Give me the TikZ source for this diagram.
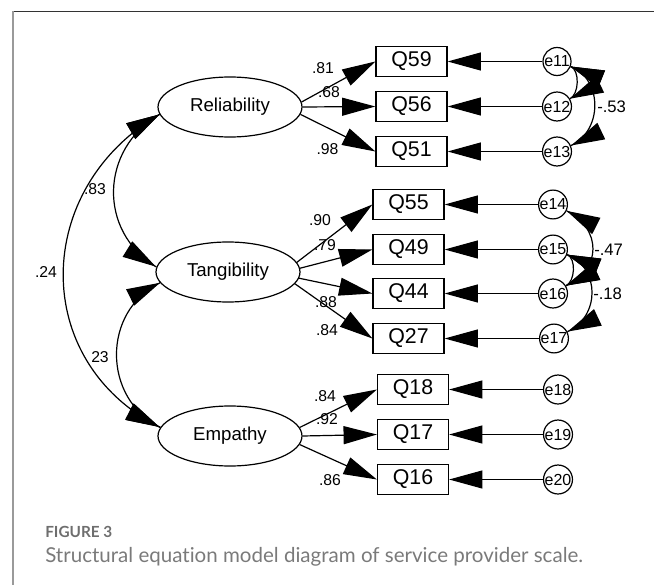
\documentclass[tikz,border=0pt]{standalone}
\usepackage{fontspec}
\setmainfont{Liberation Sans}
\newfontfamily\capfont[Ligatures=NoCommon]{Lato}
\usetikzlibrary{shapes.geometric,arrows.meta,decorations.markings}
\definecolor{figgray}{HTML}{6E6E6E}
\definecolor{capgray}{HTML}{7A7A7A}
\definecolor{framegray}{HTML}{9A9A9A}
\definecolor{framedark}{HTML}{333333}
\begin{document}
\begin{tikzpicture}[x=0.75pt,y=-0.75pt,
  lat/.style={draw,ellipse,minimum width=108pt,minimum height=45pt,inner sep=0pt,line width=0.9pt,font=\fontsize{14}{16}\selectfont},
  obs/.style={draw,rectangle,minimum width=53.25pt,minimum height=22.5pt,inner sep=0pt,line width=0.9pt,font=\fontsize{16}{18}\selectfont},
  err/.style={draw,circle,minimum size=21pt,inner sep=0pt,line width=0.9pt,font=\fontsize{12}{14}\selectfont},
  coef/.style={inner sep=0pt,font=\fontsize{11.8}{13}\selectfont},
  covlbl/.style={inner sep=0pt,anchor=west,font=\fontsize{12.5}{14}\selectfont},
  load/.style={line width=0.9pt,-{Triangle[length=25pt,width=13.5pt]}},
  cov/.style={line width=0.9pt,postaction={decorate,decoration={markings,
      mark=at position 0 with {\arrowreversed{Triangle[length=25pt,width=13.5pt]}},
      mark=at position 0.996 with {\arrow{Triangle[length=25pt,width=13.5pt]}}}}}
]
\useasboundingbox (0,0) rectangle (654,585);
% frame
\draw[framedark,line width=0.9pt] (13,11.5) -- (654,11.5);
\draw[framegray,line width=1.5pt] (13,11.5) -- (13,585);

% latent variables
\node[lat] (rel) at (230,107) {Reliability};
\node[lat] (tan) at (228,272) {Tangibility};
\node[lat] (emp) at (230,436) {Empathy};

% observed
\node[obs] (q59) at (411.5,61.5) {Q59};
\node[obs] (q56) at (411.5,106.5) {Q56};
\node[obs] (q51) at (411.5,151.5) {Q51};
\node[obs] (q55) at (408.5,204.5) {Q55};
\node[obs] (q49) at (408.5,249.5) {Q49};
\node[obs] (q44) at (408.5,293.5) {Q44};
\node[obs] (q27) at (408.5,338.5) {Q27};
\node[obs] (q18) at (413,389.5) {Q18};
\node[obs] (q17) at (413,434.5) {Q17};
\node[obs] (q16) at (413,479.5) {Q16};

% errors
\node[err] (e11) at (557,61.5) {e11};
\node[err] (e12) at (557,106.5) {e12};
\node[err] (e13) at (557,151.5) {e13};
\node[err] (e14) at (553,204.5) {e14};
\node[err] (e15) at (553,249.5) {e15};
\node[err] (e16) at (553,293.5) {e16};
\node[err] (e17) at (554,338.5) {e17};
\node[err] (e18) at (558,389.5) {e18};
\node[err] (e19) at (558,434.5) {e19};
\node[err] (e20) at (558,479.5) {e20};

% loadings
\draw[load] (rel.4) -- (q59.west);
\draw[load] (rel.east) -- (q56.west);
\draw[load] (rel.-6) -- (q51.west);
\draw[load] (tan.8) -- (q55.west);
\draw[load] (tan.3) -- (q49.west);
\draw[load] (tan.-5) -- (q44.west);
\draw[load] (tan.-10) -- (q27.west);
\draw[load] (emp.7) -- (q18.west);
\draw[load] (emp.east) -- (q17.west);
\draw[load] (emp.-7) -- (q16.west);

% error paths
\foreach \e/\q in {e11/q59,e12/q56,e13/q51,e14/q55,e15/q49,e16/q44,e17/q27,e18/q18,e19/q17,e20/q16}
  \draw[load] (\e) -- (\q.east);

% latent covariances
\draw[cov] (rel.186) .. controls +(-127,74) and +(-131,-66) .. (emp.173.5);
\draw[cov] (rel.186) .. controls +(-59.6,34.7) and +(-58.9,-35.9) .. (tan.176);
\draw[cov] (tan.189) .. controls +(-58.4,28.7) and +(-58.1,-29.1) .. (emp.173.5);

% error covariances
\draw[cov] (e11.-20) .. controls +(32.4,13.1) and +(31.7,-14.8) .. (e13.23);
\draw[cov] (e11.-20) .. controls +(9.3,3.75) and +(9.1,-4.1) .. (e12.31);
\draw[cov] (e14.-25) .. controls +(35.2,17.9) and +(36,-16.2) .. (e16.31);
\draw[cov] (e15.-20) .. controls +(33.4,13.5) and +(32.7,-15) .. (e17.27);
\draw[cov] (e15.-20) .. controls +(9.3,3.75) and +(9.1,-4.1) .. (e16.31);

% coefficient labels
\node[coef] (l81) at (323,68) {.81};
\node[coef] (l68) at (329,92.5) {.68};
\node[coef] (l98) at (327.5,149) {.98};
\node[coef] (l90) at (320,220) {.90};
\node[coef] (l79) at (325,245) {.79};
\node[coef] (l88) at (326,302) {.88};
\node[coef] (l84a) at (327,330) {.84};
\node[coef] (l84b) at (325,396) {.84};
\node[coef] (l92) at (327,419) {.92};
\node[coef] (l86) at (330,480) {.86};
\node[coef] (l24) at (46,272) {.24};
\node[coef] (l83) at (95,189) {.83};
\node[coef] (l23) at (100,357) {23};
\node[covlbl] (l53) at (597,107) {-.53};
\node[covlbl] (l47) at (594,250) {-.47};
\node[covlbl] (l18) at (593,294) {-.18};

% caption
\node[anchor=base west,inner sep=0pt,text=figgray,font=\capfont\bfseries\fontsize{11.5}{13}\selectfont] (figlbl) at (45,537) {FIGURE 3};
\node[anchor=base west,inner sep=0pt,text=capgray,font=\capfont\fontsize{15.4}{17}\selectfont] (caption) at (45,562) {Structural equation model diagram of service provider scale.};
\end{tikzpicture}
\end{document}
